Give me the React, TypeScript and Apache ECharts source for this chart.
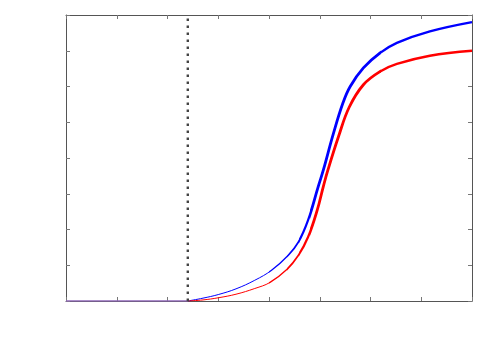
import React, { useEffect, useRef } from "react";
import * as echarts from "echarts";

// Data
const baseX = [0, 24];
const baseY = [0, 0];

const blueX = [24, 27, 30, 33.5, 37.2, 40.5, 43.8, 45.8, 47.7, 49.7, 50.7, 52.7, 54.6, 56.0, 58.6, 61.9, 65.2, 71.7, 80];
const blueY = [0, 0.08, 0.18, 0.34, 0.58, 0.86, 1.28, 1.65, 2.26, 3.2, 3.66, 4.69, 5.55, 6.0, 6.52, 6.94, 7.22, 7.54, 7.8];

const redX = [24, 27, 30, 33.5, 37.2, 40.2, 43.5, 45.8, 47.7, 49.5, 50.7, 51.6, 53.7, 55.8, 58.6, 61.9, 65.2, 71.7, 80];
const redY = [0, 0.03, 0.09, 0.19, 0.35, 0.52, 0.88, 1.28, 1.79, 2.54, 3.2, 3.66, 4.6, 5.42, 6.05, 6.42, 6.63, 6.86, 7.0];

const markerX = 24;
const yRange = [0, 8];
const xRange = [0, 80];

// styling: line width by x range (the reference line thickens along the curve)
const segments = [
  { from: 24, to: 40, w: 1 },
  { from: 40, to: 43.5, w: 1.3 },
  { from: 43.5, to: 46, w: 1.7 },
  { from: 46, to: 48, w: 2.2 },
  { from: 48, to: 62, w: 2.8 },
  { from: 62, to: 80, w: 2.4 },
];

function segSeries(xs: number[], ys: number[], color: string) {
  const data = xs.map((x, i) => [x, ys[i]]);
  const xmin = xs[0];
  const xmax = xs[xs.length - 1];
  const clear = "rgba(0,0,0,0)";
  return segments.map((s) => {
    const o1 = Math.max(0, (s.from - xmin) / (xmax - xmin));
    const o2 = Math.min(1, (s.to - xmin) / (xmax - xmin));
    const stops = [
      { offset: 0, color: o1 <= 0 ? color : clear },
      { offset: o1, color: o1 <= 0 ? color : clear },
      { offset: o1, color },
      { offset: o2, color },
      { offset: o2, color: o2 >= 1 ? color : clear },
      { offset: 1, color: o2 >= 1 ? color : clear },
    ];
    return {
      type: "line",
      data,
      showSymbol: false,
      symbol: "none",
      smooth: 0.4,
      lineStyle: {
        color: { type: "linear", x: 0, y: 0, x2: 1, y2: 0, colorStops: stops, global: false },
        width: s.w,
      },
      z: 3,
    };
  });
}

export default function App() {
  const ref = useRef<HTMLDivElement>(null);
  useEffect(() => {
    if (!ref.current) return;
    const chart = echarts.init(ref.current, undefined, { renderer: "svg" });
    const axisCommon = {
      type: "value",
      axisLine: { show: true, onZero: false, lineStyle: { color: "#555", width: 1 } },
      axisTick: { show: true, inside: true, length: 4, lineStyle: { color: "#777" } },
      axisLabel: { show: false },
      splitLine: { show: false },
    };
    chart.setOption({
      animation: false,
      backgroundColor: "#fff",
      grid: { left: 66, right: 28, top: 15, bottom: 49 },
      xAxis: [
        { ...axisCommon, min: xRange[0], max: xRange[1], interval: 10, position: "bottom" },
        { ...axisCommon, min: xRange[0], max: xRange[1], interval: 10, position: "top" },
      ],
      yAxis: [
        { ...axisCommon, min: yRange[0], max: yRange[1], interval: 1, position: "left" },
        { ...axisCommon, min: yRange[0], max: yRange[1], interval: 1, position: "right" },
      ],
      series: [
        {
          type: "line",
          data: baseX.map((x, i) => [x, baseY[i]]),
          symbol: "none",
          lineStyle: { color: "#8f66b8", width: 1.5 },
          z: 3,
        },
        ...segSeries(blueX, blueY, "#0000ff"),
        ...segSeries(redX, redY, "#ff0000"),
        {
          type: "line",
          data: [
            [markerX, yRange[0]],
            [markerX, yRange[1]],
          ],
          symbol: "none",
          lineStyle: { color: "#444", width: 2.4, type: [2.4, 4.6] },
          z: 4,
        },
      ],
    });
    return () => chart.dispose();
  }, []);
  return (
    <div
      ref={ref}
      style={{ position: "fixed", left: 0, top: 0, width: 500, height: 350 }}
    />
  );
}
